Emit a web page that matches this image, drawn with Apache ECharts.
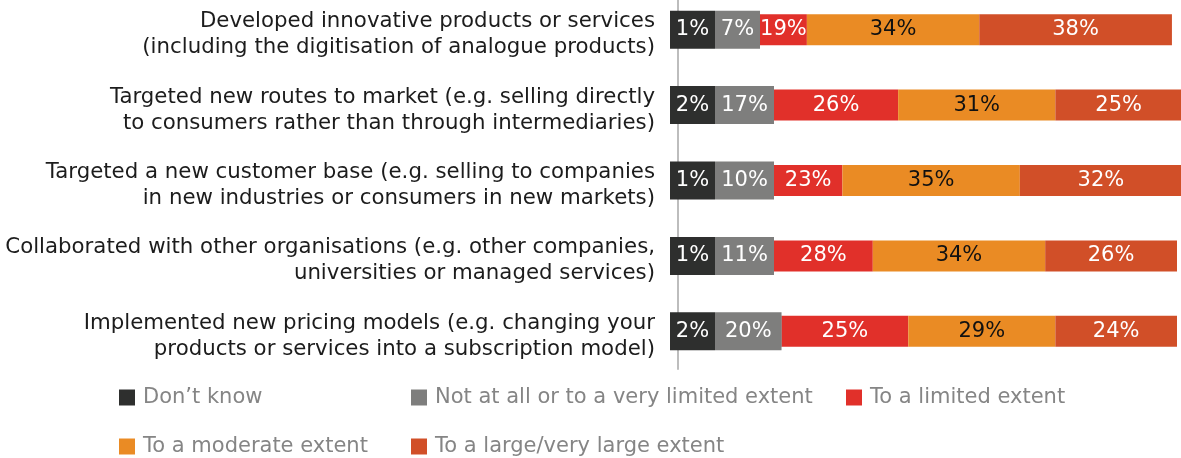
<!DOCTYPE html>
<html>
<head>
<meta charset="utf-8">
<script src="https://cdn.jsdelivr.net/npm/echarts@6/dist/echarts.min.js"></script>
<style>
  html, body { margin: 0; padding: 0; background: #ffffff; }
  #chart { width: 1181px; height: 458px; }
</style>
</head>
<body>
<div id="chart"></div>
<script>
// Survey: extent to which companies changed their business model
const categories = [
  'Developed innovative products or services\n(including the digitisation of analogue products)',
  'Targeted new routes to market (e.g. selling directly\nto consumers rather than through intermediaries)',
  'Targeted a new customer base (e.g. selling to companies\nin new industries or consumers in new markets)',
  'Collaborated with other organisations (e.g. other companies,\nuniversities or managed services)',
  'Implemented new pricing models (e.g. changing your\nproducts or services into a subscription model)'
];
const seriesNames = [
  'Don’t know',
  'Not at all or to a very limited extent',
  'To a limited extent',
  'To a moderate extent',
  'To a large/very large extent'
];
const dontKnow = [1, 2, 1, 1, 2];
const notAtAll = [7, 17, 10, 11, 20];
const limited  = [19, 26, 23, 28, 25];
const moderate = [34, 31, 35, 34, 29];
const large    = [38, 25, 32, 26, 24];

const colors = ['#2e2f2e', '#7e7e7d', '#e1302a', '#ea8b24', '#d14f28'];
const FONT = '"DejaVu Sans", sans-serif';
const LABEL_SIZE = 21;
const PAD_X = 6;

// The two leading answers are shown as value tags (text on a box in the
// segment colour) laid side by side from the start of each bar; a tag is
// at least as wide as its own segment.
const measureCtx = document.createElement('canvas').getContext('2d');
measureCtx.font = LABEL_SIZE + 'px "DejaVu Sans"';
function textTagWidth(v) {
  return Math.round(measureCtx.measureText(v + '%').width) + 2 * PAD_X;
}
// pixel x of the bar start, recovered from a segment rect and its stacked offset
function barStart(rect, before, value) {
  return rect.x - before * rect.width / value;
}
function pxPerUnit(rect, value) {
  return rect.width / value;
}
// horizontal extent [start, end] of both tags for bar i
function tagSpans(rect, i, before, value) {
  const x0 = barStart(rect, before, value);
  const k = pxPerUnit(rect, value);
  const dkEnd = Math.max(x0 + textTagWidth(dontKnow[i]), x0 + dontKnow[i] * k);
  const ngEnd = Math.max(dkEnd + textTagWidth(notAtAll[i]), x0 + (dontKnow[i] + notAtAll[i]) * k);
  return { x0: x0, dkEnd: dkEnd, ngEnd: ngEnd };
}

const tagLabel = (bg) => ({
  show: true,
  formatter: '{c}%',
  color: '#ffffff',
  fontFamily: FONT,
  fontSize: LABEL_SIZE,
  lineHeight: 20,
  backgroundColor: bg,
  padding: [9, PAD_X, 9, PAD_X]
});

const plainLabel = (color) => ({
  show: true,
  position: 'inside',
  formatter: '{c}%',
  color: color,
  fontFamily: FONT,
  fontSize: LABEL_SIZE
});

const base = {
  type: 'bar',
  stack: 'total',
  barWidth: 31,
  clip: false,
  emphasis: { disabled: true }
};

const chart = echarts.init(document.getElementById('chart'), null, { renderer: 'canvas' });

const legendCommon = {
  orient: 'vertical',
  top: 387,
  padding: 0,
  itemGap: 28,
  itemWidth: 16,
  itemHeight: 16,
  icon: 'rect',
  selectedMode: false,
  textStyle: {
    color: '#858585',
    fontFamily: FONT,
    fontSize: 21,
    lineHeight: 20,
    padding: [0, 0, 0, 3]
  }
};

chart.setOption({
  animation: false,
  color: colors,
  grid: {
    left: 670, right: 4, top: -8, height: 377,
    containLabel: false,
    outerBoundsMode: 'none'
  },
  legend: [
    Object.assign({ left: 119, data: [seriesNames[0], seriesNames[3]] }, legendCommon),
    Object.assign({ left: 411, data: [seriesNames[1], seriesNames[4]] }, legendCommon),
    Object.assign({ left: 846, data: [seriesNames[2]] }, legendCommon)
  ],
  xAxis: {
    type: 'value',
    min: 0,
    max: 100,
    show: false
  },
  yAxis: {
    type: 'category',
    inverse: true,
    data: categories,
    offset: -8,
    axisLine: { show: true, lineStyle: { color: '#bdbdbd', width: 2 } },
    axisTick: { show: false },
    axisLabel: {
      margin: 23,
      align: 'right',
      // a short spacer line sits the two text lines slightly below the bar centre
      formatter: (v) => '{s| }\n' + v.split('\n').map((l) => '{t|' + l + '}').join('\n'),
      rich: {
        s: { fontSize: 2, lineHeight: 10 },
        t: {
          color: '#1c1c1c',
          fontFamily: FONT,
          fontSize: 21.3,
          lineHeight: 26
        }
      }
    }
  },
  series: [
    Object.assign({}, base, {
      name: seriesNames[0],
      data: dontKnow,
      label: tagLabel(colors[0]),
      labelLayout: (p) => {
        const i = p.dataIndex;
        const s = tagSpans(p.rect, i, 0, dontKnow[i]);
        return {
          x: (s.x0 + s.dkEnd) / 2,
          y: p.rect.y + p.rect.height / 2,
          width: s.dkEnd - s.x0 - 2 * PAD_X,
          align: 'center',
          verticalAlign: 'middle'
        };
      }
    }),
    Object.assign({}, base, {
      name: seriesNames[1],
      data: notAtAll,
      label: tagLabel(colors[1]),
      labelLayout: (p) => {
        const i = p.dataIndex;
        const s = tagSpans(p.rect, i, dontKnow[i], notAtAll[i]);
        return {
          x: (s.dkEnd + s.ngEnd) / 2,
          y: p.rect.y + p.rect.height / 2,
          width: s.ngEnd - s.dkEnd - 2 * PAD_X,
          align: 'center',
          verticalAlign: 'middle'
        };
      }
    }),
    Object.assign({}, base, {
      name: seriesNames[2],
      data: limited,
      label: plainLabel('#ffffff'),
      labelLayout: (p) => {
        const i = p.dataIndex;
        const s = tagSpans(p.rect, i, dontKnow[i] + notAtAll[i], limited[i]);
        const end = p.rect.x + p.rect.width;
        return {
          x: (s.ngEnd + end) / 2,
          y: p.rect.y + p.rect.height / 2,
          align: 'center',
          verticalAlign: 'middle'
        };
      }
    }),
    Object.assign({}, base, {
      name: seriesNames[3],
      data: moderate,
      label: plainLabel('#111111')
    }),
    Object.assign({}, base, {
      name: seriesNames[4],
      data: large,
      label: plainLabel('#ffffff')
    })
  ]
});
</script>
</body>
</html>
